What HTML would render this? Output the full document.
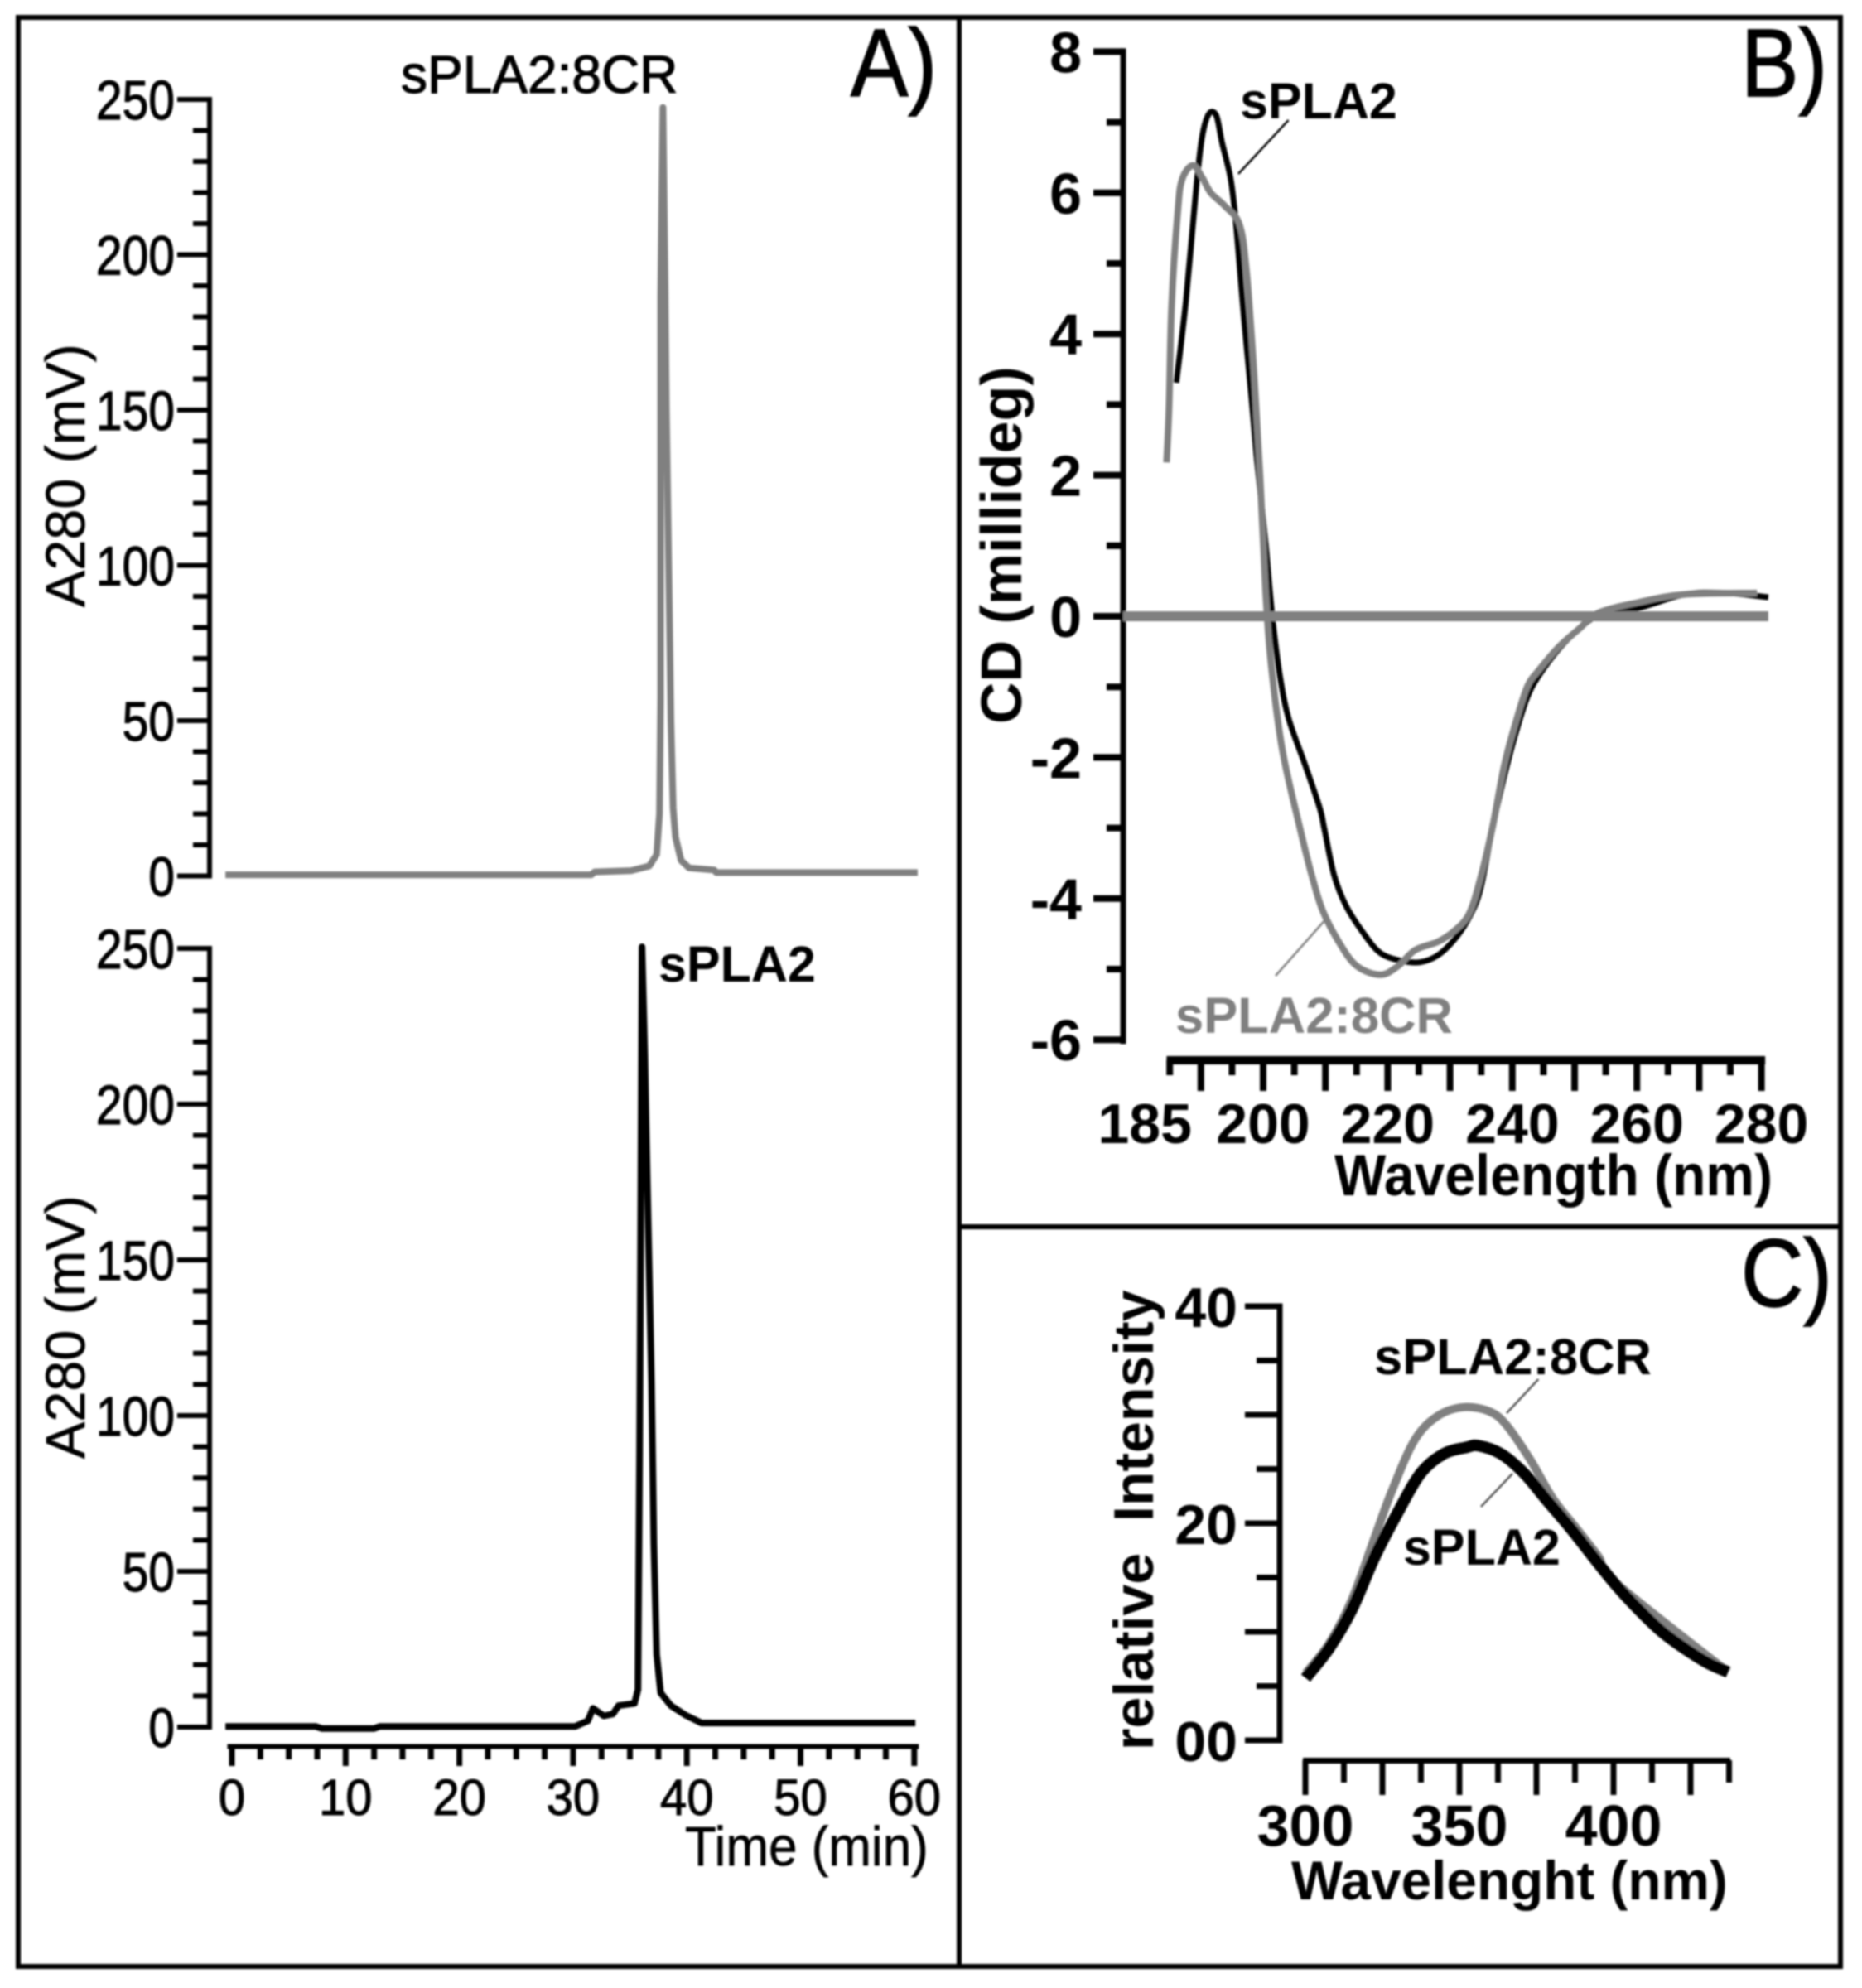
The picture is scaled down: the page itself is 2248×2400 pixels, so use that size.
<!DOCTYPE html>
<html lang="en">
<head>
<meta charset="utf-8">
<title>sPLA2 and sPLA2:8CR chromatography and spectra</title>
<style>
  html, body { margin: 0; padding: 0; background: #fff; }
  svg { display: block; font-family: "Liberation Sans", sans-serif; }
</style>
</head>
<body>
<svg id="figure" xmlns="http://www.w3.org/2000/svg" width="2248" height="2400" viewBox="0 0 2248 2400">
  <defs>
    <filter id="soften" x="0" y="0" width="100%" height="100%" filterUnits="userSpaceOnUse" primitiveUnits="userSpaceOnUse">
      <feGaussianBlur stdDeviation="1.1"/>
    </filter>
  </defs>
  <rect x="0" y="0" width="2248" height="2400" fill="#fff"/>
  <g id="root" filter="url(#soften)">
    <g fill="none" stroke="#000" stroke-width="6">
      <rect x="22" y="21" width="2200" height="2353"/>
      <line x1="1158" y1="21" x2="1158" y2="2374"/>
      <line x1="1158" y1="1481" x2="2222" y2="1481"/>
    </g>

    <text transform="translate(1027,116) scale(0.93,1.04)" font-size="112" stroke="#000" stroke-width="1.6">A)</text>
    <text transform="translate(2102,116) scale(0.93,1.04)" font-size="112" stroke="#000" stroke-width="1.6">B)</text>
    <text transform="translate(2102,1577) scale(0.93,1.04)" font-size="112" stroke="#000" stroke-width="1.6">C)</text>

    <g id="panelA1">
      <text x="484" y="112" font-size="64" stroke="#000" stroke-width="1.2">sPLA2:8CR</text>
      <text transform="translate(102,733) rotate(-90)" font-size="66.5" stroke="#000" stroke-width="0.6">A280 (mV)</text>
    </g>
    <g id="panelA2">
      <text x="795" y="1185" font-size="61" font-weight="bold">sPLA2</text>
      <text transform="translate(102,1761) rotate(-90)" font-size="66.5" stroke="#000" stroke-width="0.6">A280 (mV)</text>
      <text transform="translate(827,2252) scale(1,1.07)" font-size="62" stroke="#000" stroke-width="0.6">Time (min)</text>
    </g>
    <g id="panelB">
      <text transform="translate(1233,874) rotate(-90)" font-size="70" font-weight="bold">CD (millideg)</text>
      <text transform="translate(1611,1443) scale(1,1.07)" font-size="66" font-weight="bold">Wavelength (nm)</text>
      <text x="1497" y="143" font-size="61" font-weight="bold">sPLA2</text>
      <line x1="1555.6" y1="145" x2="1495" y2="210" stroke="#000" stroke-width="2.5"/>
      <text x="1419" y="1247" font-size="61.5" font-weight="bold" fill="#808080">sPLA2:8CR</text>
      <line x1="1598.6" y1="1112" x2="1540" y2="1178" stroke="#808080" stroke-width="2.5"/>
    </g>
    <g id="panelC">
      <text transform="translate(1392,2113) rotate(-90)" font-size="68" font-weight="bold" xml:space="preserve">relative  Intensity</text>
      <text transform="translate(1559,2293)" font-size="65.7" font-weight="bold">Wavelenght (nm)</text>
    </g>
    <g id="panelCLabels">
      <text x="1659" y="1659" font-size="61.5" font-weight="bold">sPLA2:8CR</text>
      <line x1="1857.4" y1="1665" x2="1819" y2="1706" stroke="#555" stroke-width="2.5"/>
      <text x="1694" y="1889" font-size="61" font-weight="bold">sPLA2</text>
      <line x1="1826" y1="1779" x2="1788" y2="1819" stroke="#555" stroke-width="2.5"/>
    </g>
  </g>
</svg>
<script>
// ---- Panel A data ----
const timeTicks = [0, 10, 20, 30, 40, 50, 60];
const a280Ticks = [0, 50, 100, 150, 200, 250];

const crTime = [-0.57, 31.6, 31.9, 35.1, 36.7, 37.35, 37.6, 37.7, 37.7, 37.9, 38.1, 38.2, 38.4, 38.6, 38.8, 39.0, 39.5, 40.2, 42.4, 42.6, 60.3];
const crA280 = [0.37, 0.37, 1.3, 1.7, 3.2, 6.9, 20, 57.4, 186.5, 247.4, 188.4, 151, 101.4, 50, 21.9, 12.5, 5, 2.6, 1.9, 1.1, 1.1];

const plaTime = [-0.57, 7.35, 7.9, 12.5, 13, 30.2, 31.3, 31.75, 32.7, 33.5, 34, 35.4, 35.7, 35.85, 36.06, 36.3, 36.6, 36.9, 37.1, 37.35, 37.7, 38.6, 39.9, 41.3, 60.1];
const plaA280 = [0.2, 0.2, -0.45, -0.45, 0.2, 0.2, 2, 6, 3.6, 4.2, 6.9, 7.6, 12, 88.2, 250.5, 215.8, 162, 110.5, 59, 23.3, 11, 6.9, 3.8, 1.3, 1.3];

// ---- Panel B data ----
const cdTicks = [-6, -4, -2, 0, 2, 4, 6, 8];
const cdWaveLabels = [185, 200, 220, 240, 260, 280];

const cdPlaWave = [186.06, 187.6, 189.3, 190.2, 191.3, 192.5, 193.4, 194.8, 195.7, 196.9, 198.1, 199, 200.4, 201.5, 202.7, 204.1, 206.8, 209.1, 209.8, 211.4, 213.3, 216.1, 218.8, 222.1, 225.3, 228.1, 230.8, 233.1, 234.9, 236.8, 238.7, 240.5, 242.4, 244.2, 247.4, 250.7, 253.9, 260.4, 267.7, 274.2, 281.1];
const cdPlaValue = [3.31, 4.47, 6.11, 6.79, 7.12, 7.09, 6.71, 6.19, 5.51, 4.24, 3.12, 2.22, 1.02, -0.03, -0.85, -1.45, -2.12, -2.72, -3.0, -3.67, -4.1, -4.49, -4.77, -4.88, -4.9, -4.8, -4.57, -4.26, -3.86, -3.0, -2.27, -1.67, -1.15, -0.85, -0.47, -0.18, 0.01, 0.12, 0.31, 0.33, 0.27];

const cdCrWave = [184.5, 184.9, 185.3, 186.3, 187, 188.7, 190.2, 191.6, 193.9, 196.2, 197.3, 198.5, 199.5, 200.4, 201.3, 203.1, 205.9, 207.8, 209.6, 212.4, 215.1, 218.8, 221.6, 224.4, 228.1, 230.8, 233.1, 234.9, 236.8, 238.7, 240.5, 242.4, 244.2, 247.4, 250.7, 253.9, 260.4, 267.7, 279.3];
const cdCrValue = [2.18, 2.97, 4.4, 5.74, 6.19, 6.39, 6.22, 6, 5.81, 5.55, 4.91, 3.49, 2, 0.35, -0.7, -1.9, -3, -3.67, -4.18, -4.65, -4.96, -5.08, -4.96, -4.73, -4.61, -4.45, -4.21, -3.71, -3, -2.12, -1.52, -1, -0.77, -0.44, -0.18, 0.05, 0.2, 0.31, 0.33];

const cdBaselineWave = [177.5, 281.1];
const cdBaselineValue = [0, 0];

// ---- Panel C data ----
const flYLabels = ["00", "20", "40"];
const flYLabelValues = [0, 20, 40];
const flXLabels = [300, 350, 400];

const flPlaWave = [300.1, 307.6, 315, 322.5, 330, 337.4, 344.9, 352.3, 356.1, 363.5, 371, 378.4, 385.9, 393.4, 400.8, 408.3, 415.7, 423.2, 430.7, 437.2];
const flPlaValue = [5.74, 8.43, 12, 16.9, 21, 24.6, 26.4, 27, 27.15, 26.4, 24.6, 22.1, 19.6, 16.9, 14.3, 12, 10, 8.43, 7.1, 6.28];

const flCrWave = [300.1, 307.6, 315, 322.5, 328.1, 335.5, 343, 351.4, 359.8, 365.4, 372.9, 380.3, 387.8, 395.2, 400.8, 437.2];
const flCrValue = [6.18, 8.88, 12.9, 18.7, 23, 27.7, 29.9, 30.7, 30.3, 29, 25.9, 22.3, 19.6, 16.9, 14.5, 6.28];

// ---- Axis functions ----
const xTime = t => 280 + t * 13.73;
const yA1 = v => 1057.5 - v * 3.75;
const yA2 = v => 2085 - v * 3.76;
const xCd = w => 1525 + (w - 200) * 7.52;
const yCd = v => 744 - v * 85.2;
const xFl = w => 1576 + (w - 300) * 3.72;
const yFl = v => 2101 - v * 13.1;

const NS = 'http://www.w3.org/2000/svg';
const panelA1 = document.getElementById('panelA1');
const panelA2 = document.getElementById('panelA2');
const panelB = document.getElementById('panelB');
const panelC = document.getElementById('panelC');

function svgLine(parent, x1, y1, x2, y2, width) {
  const el = document.createElementNS(NS, 'line');
  el.setAttribute('x1', x1);
  el.setAttribute('y1', y1);
  el.setAttribute('x2', x2);
  el.setAttribute('y2', y2);
  el.setAttribute('stroke', '#000');
  el.setAttribute('stroke-width', width);
  parent.appendChild(el);
  return el;
}

function svgLabel(parent, x, y, str, size, weight, anchor, stroke, sy) {
  const el = document.createElementNS(NS, 'text');
  el.setAttribute('transform', 'translate(' + x + ',' + y + ') scale(1,' + (sy || 1) + ')');
  el.setAttribute('font-size', size);
  el.setAttribute('font-weight', weight);
  el.setAttribute('text-anchor', anchor);
  if (stroke) {
    el.setAttribute('stroke', '#000');
    el.setAttribute('stroke-width', stroke);
  }
  el.textContent = str;
  parent.appendChild(el);
  return el;
}

// Straight segments between samples (stepped chromatogram traces, baselines)
function svgTrace(parent, xs, ys, xFn, yFn, color, width) {
  const el = document.createElementNS(NS, 'polyline');
  el.setAttribute('points', xs.map((x, i) => xFn(x).toFixed(1) + ',' + yFn(ys[i]).toFixed(1)).join(' '));
  el.setAttribute('fill', 'none');
  el.setAttribute('stroke', color);
  el.setAttribute('stroke-width', width);
  el.setAttribute('stroke-linejoin', 'round');
  parent.appendChild(el);
  return el;
}

// Catmull-Rom curve through the samples (smooth spectra)
function svgCurve(parent, xs, ys, xFn, yFn, color, width) {
  const p = xs.map((x, i) => [xFn(x), yFn(ys[i])]);
  let d = 'M' + p[0][0].toFixed(1) + ' ' + p[0][1].toFixed(1);
  for (let i = 0; i < p.length - 1; i += 1) {
    const a = p[Math.max(i - 1, 0)];
    const b = p[i];
    const c = p[i + 1];
    const e = p[Math.min(i + 2, p.length - 1)];
    const c1x = b[0] + (c[0] - a[0]) / 6;
    const c1y = b[1] + (c[1] - a[1]) / 6;
    const c2x = c[0] - (e[0] - b[0]) / 6;
    const c2y = c[1] - (e[1] - b[1]) / 6;
    d += ' C' + c1x.toFixed(1) + ' ' + c1y.toFixed(1) + ' ' + c2x.toFixed(1) + ' ' + c2y.toFixed(1) + ' ' + c[0].toFixed(1) + ' ' + c[1].toFixed(1);
  }
  const el = document.createElementNS(NS, 'path');
  el.setAttribute('d', d);
  el.setAttribute('fill', 'none');
  el.setAttribute('stroke', color);
  el.setAttribute('stroke-width', width);
  el.setAttribute('stroke-linejoin', 'round');
  parent.appendChild(el);
  return el;
}

// ---- Panel A vertical axes ----
function drawA280Axis(parent, yFn) {
  const spine = svgLine(parent, 253, yFn(250) - 3, 253, yFn(0) + 3, 6);
  
  
  for (let v = 0; v <= 250; v += 10) {
    const isMajor = v % 50 === 0;
    const tick = svgLine(parent, isMajor ? 214 : 233, yFn(v), 253, yFn(v), 6);
    
    
  }
  a280Ticks.forEach(v => {
    const label = svgLabel(parent, 211, yFn(v) + 24, String(v), 57, 'normal', 'end', 1, 1.17);
    
    
  });
}
drawA280Axis(panelA1, yA1);
drawA280Axis(panelA2, yA2);

const traceCr = svgTrace(panelA1, crTime, crA280, xTime, yA1, '#808080', 8);



const tracePla = svgTrace(panelA2, plaTime, plaA280, xTime, yA2, '#000', 8);



// ---- Panel A time axis ----
const timeSpine = svgLine(panelA2, xTime(-0.4), 2108.5, xTime(60.4), 2108.5, 6);


for (let t = 0; t <= 60; t += 2.5) {
  const isMajor = t % 10 === 0;
  const tick = svgLine(panelA2, xTime(t), 2108, xTime(t), isMajor ? 2132 : 2124, 7);
  
  
}
timeTicks.forEach(t => {
  const label = svgLabel(panelA2, xTime(t), 2191, String(t), 58, 'normal', 'middle', 1, 1.05);
  
  
});

// ---- Panel B axes ----
const cdSpine = svgLine(panelB, 1356, yCd(8) - 4, 1356, yCd(-6) + 5, 7);


for (let v = -6; v <= 8; v += 1) {
  const isMajor = v % 2 === 0;
  const tick = svgLine(panelB, isMajor ? 1320 : 1336, yCd(v), 1356, yCd(v), 8);
  
  
}
cdTicks.forEach(v => {
  const label = svgLabel(panelB, 1306, yCd(v) + 25, String(v), 70, 'bold', 'end');
  
  
});

const cdXSpine = svgLine(panelB, xCd(184.5), 1280, xCd(280.6), 1280, 10);


for (let w = 185; w <= 280; w += 5) {
  const isMajor = w % 10 === 0;
  const tick = svgLine(panelB, xCd(w), 1280, xCd(w), isMajor ? 1317 : 1298, 8);
  
  
}
cdWaveLabels.forEach(w => {
  const dx = w === 185 ? -30 : 0;
  const label = svgLabel(panelB, xCd(w) + dx, 1380, String(w), 68, 'bold', 'middle');
  
  
});

const cdPlaLine = svgCurve(panelB, cdPlaWave, cdPlaValue, xCd, yCd, '#000', 7);



const cdCrLine = svgCurve(panelB, cdCrWave, cdCrValue, xCd, yCd, '#808080', 8);



const cdBaseline = svgTrace(panelB, cdBaselineWave, cdBaselineValue, xCd, yCd, '#808080', 12);



// ---- Panel C axes ----
const flSpine = svgLine(panelC, 1545, yFl(40) - 3.5, 1545, yFl(0) + 3.5, 7);


for (let v = 0; v <= 40; v += 5) {
  const isMajor = v % 10 === 0;
  const tick = svgLine(panelC, isMajor ? 1503 : 1517, yFl(v), 1545, yFl(v), 7);
  
  
}
flYLabels.forEach((str, i) => {
  const label = svgLabel(panelC, 1494, yFl(flYLabelValues[i]) + 25, str, 68, 'bold', 'end');
  
  
});

const flXSpine = svgLine(panelC, xFl(299.2), 2125.5, xFl(437.9), 2125.5, 7);


for (let k = 0; k <= 11; k += 1) {
  const w = 300 + k * 12.5;
  const isMajor = k % 2 === 0;
  const tick = svgLine(panelC, xFl(w), 2125, xFl(w), isMajor ? 2167 : 2152, 7);
  
  
}
flXLabels.forEach(w => {
  const label = svgLabel(panelC, xFl(w), 2228, String(w), 70, 'bold', 'middle');
  
  
});

const flCrLine = svgCurve(panelC, flCrWave, flCrValue, xFl, yFl, '#808080', 10);



const flPlaLine = svgCurve(panelC, flPlaWave, flPlaValue, xFl, yFl, '#000', 14);


</script>
</body>
</html>
